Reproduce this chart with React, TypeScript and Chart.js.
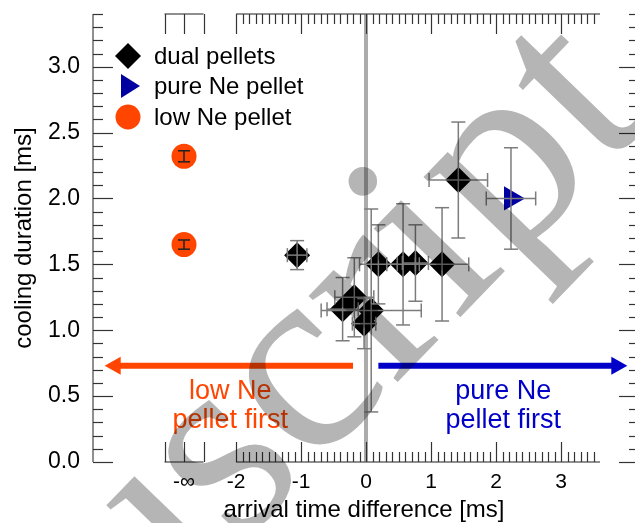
import React, { useEffect, useRef } from 'react';
import { Chart, registerables } from 'chart.js';

Chart.register(...registerables);

// ---- data ----
const NEG_INF = -2.8; // position used for "-∞"
const dualX = [-1.06, -0.36, -0.18, -0.03, 0.08, 0.19, 0.57, 0.76, 1.17, 1.42];
const dualY = [1.57, 1.16, 1.25, 1.05, 1.15, 1.5, 1.5, 1.51, 1.5, 2.14];
const dualXErr = [0.15, 0.24, 0.3, 0.18, 0.77, 0.29, 0.25, 0.2, 0.41, 0.45];
const dualYErr = [0.11, 0.24, 0.3, 0.19, 0.77, 0.3, 0.46, 0.29, 0.43, 0.44];

const pureX = [2.23];
const pureY = [2.0];
const pureXErr = [0.38];
const pureYErr = [0.385];

const lowX = [NEG_INF, NEG_INF];
const lowY = [2.32, 1.65];
const lowXErr = [0, 0];
const lowYErr = [0.042, 0.035];

const xTickValues = [NEG_INF, -2, -1, 0, 1, 2, 3];
const xTickLabels = ['-\u221E', '-2', '-1', '0', '1', '2', '3'];
const yTickValues = [0, 0.5, 1, 1.5, 2, 2.5, 3];
const yTickLabels = ['0.0', '0.5', '1.0', '1.5', '2.0', '2.5', '3.0'];

const legendLabels = ['dual pellets', 'pure Ne pellet', 'low Ne pellet'];
const arrowY = 0.73;
const orangeArrow = [-0.2, -4.02];
const blueArrow = [0.19, 4.02];
const orangeText = ['low Ne', 'pellet first'];
const blueText = ['pure Ne', 'pellet first'];
const orangeTextX = -2.09;
const blueTextX = 2.11;
const annotTextY = 0.48;

const ORANGE = '#ff4500';
const BLUE = '#0000c8';
const TRI_BLUE = '#0000a0';
const SANS = '"Liberation Sans", Arial, Helvetica, sans-serif';

const pts = (xs: number[], ys: number[]) => xs.map((x, i) => ({ x, y: ys[i] }));

const overlay = {
  id: 'overlay',
  beforeDatasetsDraw(chart: any) {
    const { ctx, chartArea: a, scales } = chart;
    const xs = scales.x, ys = scales.y;
    const X = (v: number) => xs.getPixelForValue(v);
    const Y = (v: number) => ys.getPixelForValue(v);
    const line = (x1: number, y1: number, x2: number, y2: number) => {
      ctx.beginPath(); ctx.moveTo(x1, y1); ctx.lineTo(x2, y2); ctx.stroke();
    };
    ctx.save();
    // zero line
    ctx.strokeStyle = 'rgba(0,0,0,0.33)';
    ctx.lineWidth = 4;
    line(X(0), a.top, X(0), a.bottom);

    // axis lines
    ctx.strokeStyle = '#6a6a6a';
    ctx.lineWidth = 1.5;
    line(a.left, a.top, a.left, a.bottom);
    for (const yy of [a.top, a.bottom]) {
      line(X(-2), yy, X(3.6), yy);
      line(X(-3.1), yy, X(-2.5), yy);
    }
    // ticks
    ctx.strokeStyle = '#333';
    ctx.lineWidth = 1.2;
    for (let i = -20; i <= 35; i++) {
      const px = Math.round(X(i / 10)) + 0.5;
      const len = i % 10 === 0 ? 20 : 10;
      line(px, a.bottom, px, a.bottom - len);
      line(px, a.top, px, a.top + len);
    }
    for (const v of [-3.1, NEG_INF, -2.5]) {
      const px = Math.round(X(v)) + 0.5;
      line(px, a.bottom, px, a.bottom - 20);
      line(px, a.top, px, a.top + 20);
    }
    const R = a.right + 4;
    for (let i = 0; i <= 34; i++) {
      const py = Math.round(Y(i / 10)) + 0.5;
      const len = i % 5 === 0 ? 20 : 10;
      line(a.left, py, a.left + len, py);
      line(R, py, R - len, py);
    }

    // arrows
    const arrow = (x1: number, x2: number, color: string) => {
      const py = Y(arrowY);
      const p1 = X(x1), p2 = X(x2);
      const dir = Math.sign(p2 - p1);
      ctx.strokeStyle = color; ctx.fillStyle = color; ctx.lineWidth = 6;
      line(p1, py, p2 - dir * 14, py);
      ctx.beginPath();
      ctx.moveTo(p2, py);
      ctx.lineTo(p2 - dir * 16, py - 9);
      ctx.lineTo(p2 - dir * 16, py + 9);
      ctx.closePath();
      ctx.fill();
    };
    arrow(orangeArrow[0], orangeArrow[1], ORANGE);
    arrow(blueArrow[0], blueArrow[1], BLUE);

    ctx.font = `27px ${SANS}`;
    ctx.textAlign = 'center';
    ctx.textBaseline = 'alphabetic';
    ctx.fillStyle = ORANGE;
    orangeText.forEach((t, i) => ctx.fillText(t, X(orangeTextX), Y(annotTextY) + i * 29));
    ctx.fillStyle = BLUE;
    blueText.forEach((t, i) => ctx.fillText(t, X(blueTextX), Y(annotTextY) + i * 29));

    // legend
    const lx = a.left + 35;
    const rows = [a.top + 42, a.top + 72, a.top + 103];
    ctx.fillStyle = '#000';
    ctx.beginPath();
    ctx.moveTo(lx, rows[0] - 13); ctx.lineTo(lx + 13, rows[0]);
    ctx.lineTo(lx, rows[0] + 13); ctx.lineTo(lx - 13, rows[0]); ctx.closePath(); ctx.fill();
    ctx.fillStyle = TRI_BLUE;
    ctx.beginPath();
    ctx.moveTo(lx + 12, rows[1]); ctx.lineTo(lx - 7, rows[1] - 12);
    ctx.lineTo(lx - 7, rows[1] + 12); ctx.closePath(); ctx.fill();
    ctx.fillStyle = ORANGE;
    ctx.beginPath(); ctx.arc(lx, rows[2], 12.5, 0, Math.PI * 2); ctx.fill();
    ctx.fillStyle = '#000';
    ctx.font = `24px ${SANS}`;
    ctx.textAlign = 'left';
    ctx.textBaseline = 'middle';
    legendLabels.forEach((t, i) => ctx.fillText(t, a.left + 61, rows[i] + 1));
    ctx.restore();
  },
  afterDatasetsDraw(chart: any) {
    const { ctx, scales } = chart;
    const X = (v: number) => scales.x.getPixelForValue(v);
    const Y = (v: number) => scales.y.getPixelForValue(v);
    const line = (x1: number, y1: number, x2: number, y2: number) => {
      ctx.beginPath(); ctx.moveTo(x1, y1); ctx.lineTo(x2, y2); ctx.stroke();
    };
    const bars = (xv: number[], yv: number[], xe: number[], ye: number[], color: string, cap: number) => {
      ctx.strokeStyle = color;
      ctx.lineWidth = 1.5;
      xv.forEach((xx, i) => {
        const px = X(xx), py = Y(yv[i]);
        if (ye[i] > 0) {
          const t = Y(yv[i] + ye[i]), b = Y(yv[i] - ye[i]);
          line(px, t, px, b);
          line(px - cap, t, px + cap, t);
          line(px - cap, b, px + cap, b);
        }
        if (xe[i] > 0) {
          const l = X(xx - xe[i]), r = X(xx + xe[i]);
          line(l, py, r, py);
          line(l, py - cap, l, py + cap);
          line(r, py - cap, r, py + cap);
        }
      });
    };
    ctx.save();
    bars(dualX, dualY, dualXErr, dualYErr, '#7c7c7c', 7);
    bars(pureX, pureY, pureXErr, pureYErr, '#7c7c7c', 7);
    bars(lowX, lowY, lowXErr, lowYErr, '#222', 6);
    ctx.restore();
  },
  afterDraw(chart: any) {
    const { ctx } = chart;
    ctx.save();
    const fs = 270;
    ctx.font = `${fs}px "Liberation Serif", "DejaVu Serif", serif`;
    const w1 = ctx.measureText('Manuscr').width;
    const wi = ctx.measureText('i').width;
    const phi = (46 * Math.PI) / 180;
    ctx.translate(362, 178);
    ctx.rotate(-phi);
    ctx.fillStyle = 'rgba(0,0,0,0.29)';
    ctx.textAlign = 'left';
    ctx.textBaseline = 'alphabetic';
    ctx.fillText('Manuscript', -(w1 + wi / 2), 0.62 * fs);
    ctx.restore();
  },
};

export default function App() {
  const ref = useRef<HTMLCanvasElement | null>(null);
  useEffect(() => {
    if (!ref.current) return;
    const chart = new Chart(ref.current, {
      type: 'scatter',
      data: {
        datasets: [
          {
            label: legendLabels[0],
            data: pts(dualX, dualY),
            pointStyle: 'rectRot',
            pointRadius: 13,
            pointBackgroundColor: '#000',
            pointBorderWidth: 0,
          },
          {
            label: legendLabels[1],
            data: pts(pureX, pureY),
            pointStyle: 'triangle',
            pointRotation: 90,
            pointRadius: 14,
            pointBackgroundColor: TRI_BLUE,
            pointBorderWidth: 0,
          },
          {
            label: legendLabels[2],
            data: pts(lowX, lowY),
            pointStyle: 'circle',
            pointRadius: 12.5,
            pointBackgroundColor: ORANGE,
            pointBorderWidth: 0,
          },
        ] as any,
      },
      options: {
        responsive: false,
        animation: false,
        layout: { autoPadding: false, padding: { top: 14, right: 0, left: 0, bottom: 0 } },
        plugins: { legend: { display: false }, tooltip: { enabled: false } },
        scales: {
          x: {
            type: 'linear',
            min: -4.2,
            max: 4.138,
            grid: { display: false, drawTicks: false },
            border: { display: false },
            afterBuildTicks: (s: any) => { s.ticks = xTickValues.map((v) => ({ value: v })); },
            afterFit: (s: any) => { s.height = 61; s.paddingLeft = 0; s.paddingRight = 0; },
            ticks: {
              autoSkip: false,
              maxRotation: 0,
              padding: 8,
              color: '#000',
              font: { family: SANS, size: 21 },
              callback: (_v: any, i: number) => xTickLabels[i],
            },
            title: {
              display: true,
              text: 'arrival time difference [ms]',
              color: '#000',
              font: { family: SANS, size: 24 },
              padding: { top: 0, bottom: -2 },
            },
          },
          y: {
            type: 'linear',
            min: 0,
            max: 3.4,
            grid: { display: false, drawTicks: false },
            border: { display: false },
            afterBuildTicks: (s: any) => { s.ticks = yTickValues.map((v) => ({ value: v })); },
            afterFit: (s: any) => { s.width = 93; s.paddingTop = 0; s.paddingBottom = 0; },
            ticks: {
              padding: 13,
              color: '#000',
              font: { family: SANS, size: 23 },
              callback: (_v: any, i: number) => yTickLabels[i],
            },
            title: {
              display: true,
              text: 'cooling duration [ms]',
              color: '#000',
              font: { family: SANS, size: 24 },
              padding: { top: 10, bottom: 0 },
            },
          },
        },
      } as any,
      plugins: [overlay],
    });
    return () => chart.destroy();
  }, []);
  return (
    <div style={{ position: 'fixed', left: 0, top: 0, width: 635, height: 523, background: '#fff' }}>
      <canvas ref={ref} width={635} height={523} style={{ display: 'block' }} />
    </div>
  );
}
